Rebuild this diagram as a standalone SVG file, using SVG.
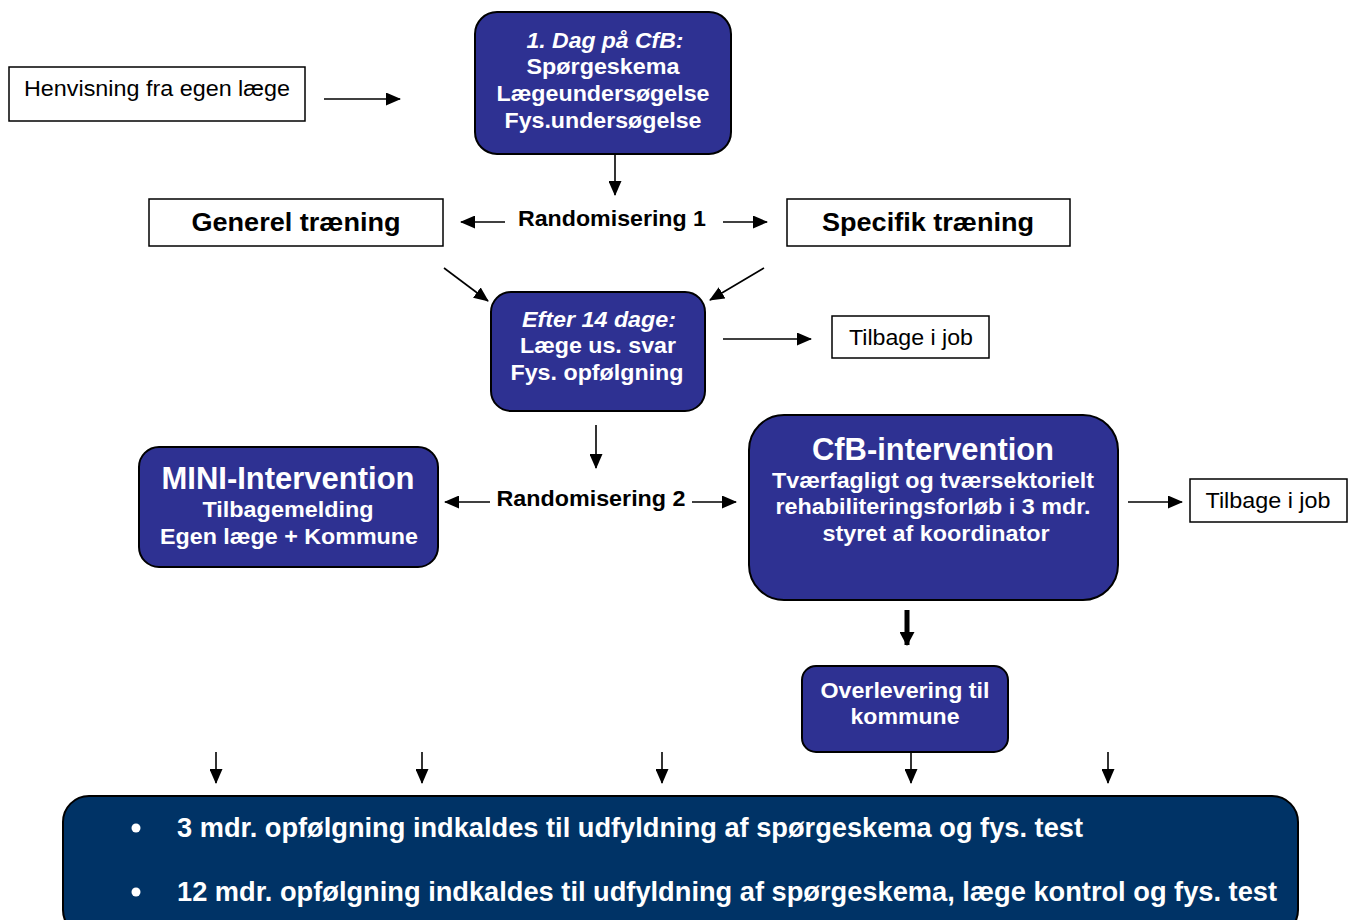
<svg xmlns="http://www.w3.org/2000/svg" width="1356" height="920" viewBox="0 0 1356 920">
<style>
.box{fill:#fff;stroke:#000;stroke-width:1.5}
.nb{fill:#2E3192;stroke:#000;stroke-width:2}
.bb{fill:#003366;stroke:#000;stroke-width:2}
.t{font-family:"Liberation Sans",Arial,sans-serif;text-anchor:middle}
.w{fill:#fff;font-weight:bold}
.k{fill:#000}
.b{font-weight:bold}
.i{font-style:italic}
.c{fill:none;stroke:#000;stroke-width:1.6}
</style>
<defs>
<marker id="ah" markerUnits="userSpaceOnUse" markerWidth="15" markerHeight="13" refX="14" refY="6.5" orient="auto">
<path d="M0,0 L15,6.5 L0,13 Z" fill="#000"/>
</marker>
<marker id="ahT" markerUnits="userSpaceOnUse" markerWidth="15" markerHeight="15" refX="13" refY="7.5" orient="auto">
<path d="M0,0 L14,7.5 L0,15 Z" fill="#000"/>
</marker>
</defs>
<g id="connectors">
<line class="c" x1="324" y1="99" x2="400" y2="99" marker-end="url(#ah)"/>
<line class="c" x1="615" y1="154" x2="615" y2="195" marker-end="url(#ah)"/>
<line class="c" x1="505" y1="222" x2="461" y2="222" marker-end="url(#ah)"/>
<line class="c" x1="723" y1="222" x2="767" y2="222" marker-end="url(#ah)"/>
<line class="c" x1="444" y1="268" x2="488" y2="301" marker-end="url(#ah)"/>
<line class="c" x1="764" y1="268" x2="710" y2="300" marker-end="url(#ah)"/>
<line class="c" x1="723" y1="339" x2="811" y2="339" marker-end="url(#ah)"/>
<line class="c" x1="596" y1="425" x2="596" y2="468" marker-end="url(#ah)"/>
<line class="c" x1="490" y1="502" x2="445" y2="502" marker-end="url(#ah)"/>
<line class="c" x1="692" y1="502" x2="736" y2="502" marker-end="url(#ah)"/>
<line class="c" x1="1128" y1="502" x2="1182" y2="502" marker-end="url(#ah)"/>
<line x1="907" y1="610" x2="907" y2="645" stroke="#000" stroke-width="5" marker-end="url(#ahT)"/>
<line class="c" x1="216" y1="752" x2="216" y2="783" marker-end="url(#ah)"/>
<line class="c" x1="422" y1="752" x2="422" y2="783" marker-end="url(#ah)"/>
<line class="c" x1="662" y1="752" x2="662" y2="783" marker-end="url(#ah)"/>
<line class="c" x1="911" y1="752" x2="911" y2="783" marker-end="url(#ah)"/>
<line class="c" x1="1108" y1="752" x2="1108" y2="783" marker-end="url(#ah)"/>
</g>
<g id="henvisning">
<rect class="box" x="9" y="67" width="296" height="54"/>
<text class="t k" x="157" y="96" font-size="22" textLength="266" lengthAdjust="spacingAndGlyphs">Henvisning fra egen læge</text>
</g>
<g id="dag1">
<rect class="nb" x="475" y="12" width="256" height="142" rx="22"/>
<text class="t w i" x="605" y="48" font-size="22.5" textLength="157" lengthAdjust="spacingAndGlyphs">1. Dag på CfB:</text>
<text class="t w" x="603" y="74" font-size="22.5" textLength="153" lengthAdjust="spacingAndGlyphs">Spørgeskema</text>
<text class="t w" x="603" y="101" font-size="22.5" textLength="213" lengthAdjust="spacingAndGlyphs">Lægeundersøgelse</text>
<text class="t w" x="603" y="128" font-size="22.5" textLength="197" lengthAdjust="spacingAndGlyphs">Fys.undersøgelse</text>
</g>
<g id="generel">
<rect class="box" x="149" y="199" width="294" height="47"/>
<text class="t k b" x="296" y="231" font-size="26.5" textLength="209" lengthAdjust="spacingAndGlyphs">Generel træning</text>
</g>
<g id="rand1">
<text class="t k b" x="612" y="226" font-size="22.5" textLength="188" lengthAdjust="spacingAndGlyphs">Randomisering 1</text>
</g>
<g id="specifik">
<rect class="box" x="787" y="199" width="283" height="47"/>
<text class="t k b" x="928" y="231" font-size="26.5" textLength="212" lengthAdjust="spacingAndGlyphs">Specifik træning</text>
</g>
<g id="efter14">
<rect class="nb" x="491" y="292" width="214" height="119" rx="20"/>
<text class="t w i" x="599" y="327" font-size="22.5" textLength="154" lengthAdjust="spacingAndGlyphs">Efter 14 dage:</text>
<text class="t w" x="598" y="353" font-size="22.5" textLength="156" lengthAdjust="spacingAndGlyphs">Læge us. svar</text>
<text class="t w" x="597" y="380" font-size="22.5" textLength="173" lengthAdjust="spacingAndGlyphs">Fys. opfølgning</text>
</g>
<g id="tilbage1">
<rect class="box" x="832" y="316" width="157" height="42"/>
<text class="t k" x="911" y="345" font-size="22" textLength="124" lengthAdjust="spacingAndGlyphs">Tilbage i job</text>
</g>
<g id="mini">
<rect class="nb" x="139" y="447" width="299" height="120" rx="20"/>
<text class="t w" x="288" y="489" font-size="31" textLength="253" lengthAdjust="spacingAndGlyphs">MINI-Intervention</text>
<text class="t w" x="288" y="517" font-size="22.5" textLength="171" lengthAdjust="spacingAndGlyphs">Tilbagemelding</text>
<text class="t w" x="289" y="544" font-size="22.5" textLength="258" lengthAdjust="spacingAndGlyphs">Egen læge + Kommune</text>
</g>
<g id="rand2">
<text class="t k b" x="591" y="506" font-size="22.5" textLength="189" lengthAdjust="spacingAndGlyphs">Randomisering 2</text>
</g>
<g id="cfb">
<rect class="nb" x="749" y="415" width="369" height="185" rx="35"/>
<text class="t w" x="933" y="460" font-size="31" textLength="242" lengthAdjust="spacingAndGlyphs">CfB-intervention</text>
<text class="t w" x="933" y="488" font-size="22.5" textLength="322" lengthAdjust="spacingAndGlyphs">Tværfagligt og tværsektorielt</text>
<text class="t w" x="933" y="514" font-size="22.5" textLength="315" lengthAdjust="spacingAndGlyphs">rehabiliteringsforløb i 3 mdr.</text>
<text class="t w" x="936" y="541" font-size="22.5" textLength="227" lengthAdjust="spacingAndGlyphs">styret af koordinator</text>
</g>
<g id="tilbage2">
<rect class="box" x="1190" y="479" width="157" height="43"/>
<text class="t k" x="1268" y="508" font-size="22" textLength="125" lengthAdjust="spacingAndGlyphs">Tilbage i job</text>
</g>
<g id="overlevering">
<rect class="nb" x="802" y="666" width="206" height="86" rx="14"/>
<text class="t w" x="905" y="698" font-size="22.5" textLength="169" lengthAdjust="spacingAndGlyphs">Overlevering til</text>
<text class="t w" x="905" y="724" font-size="22.5" textLength="109" lengthAdjust="spacingAndGlyphs">kommune</text>
</g>
<g id="opfoelgning">
<rect class="bb" x="63" y="796" width="1235" height="140" rx="26"/>
<circle cx="136" cy="828" r="4.5" fill="#fff"/>
<circle cx="136" cy="892" r="4.5" fill="#fff"/>
<text class="w" x="177" y="837" font-size="27" font-family="Liberation Sans, Arial, sans-serif" textLength="906" lengthAdjust="spacingAndGlyphs">3 mdr. opfølgning indkaldes til udfyldning af spørgeskema og fys. test</text>
<text class="w" x="177" y="901" font-size="27" font-family="Liberation Sans, Arial, sans-serif" textLength="1100" lengthAdjust="spacingAndGlyphs">12 mdr. opfølgning indkaldes til udfyldning af spørgeskema, læge kontrol og fys. test</text>
</g>
</svg>
